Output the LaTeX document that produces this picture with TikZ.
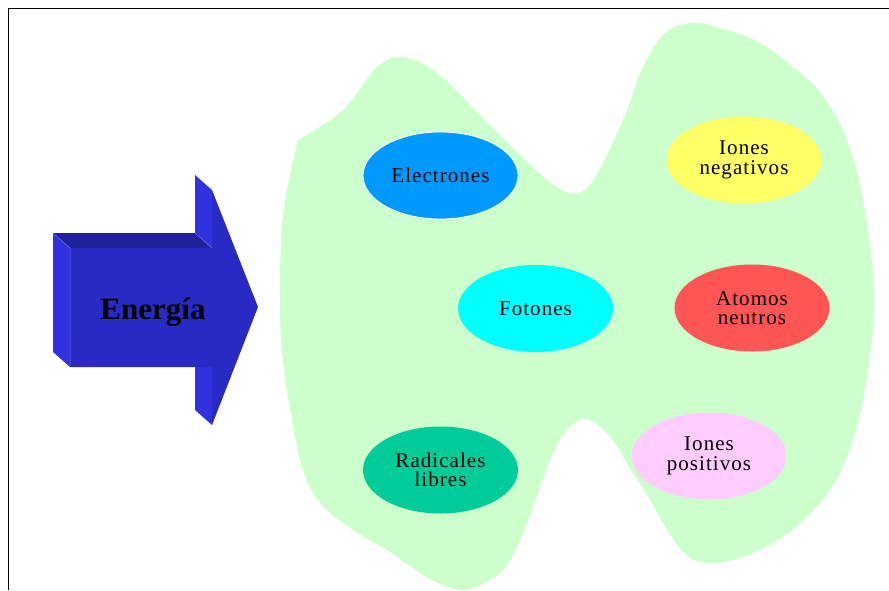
\documentclass[tikz,border=0pt]{standalone}
\usepackage{fontspec}
\setmainfont{Liberation Serif}
\newfontfamily\etiqueta[LetterSpace=5]{Liberation Serif}
\usetikzlibrary{shapes.geometric}
\definecolor{fondo}{HTML}{CCFFCC}
\definecolor{carafrente}{HTML}{2929C3}
\definecolor{caraclara}{HTML}{3131E0}
\definecolor{caraoscura}{HTML}{20209A}
\definecolor{electrones}{HTML}{0099FF}
\definecolor{negativos}{HTML}{FFFF66}
\definecolor{fotones}{HTML}{00FFFF}
\definecolor{neutros}{HTML}{FF5555}
\definecolor{radicales}{HTML}{00CC99}
\definecolor{positivos}{HTML}{FFCCFF}
\tikzset{particula/.style={ellipse, inner sep=0pt, minimum width=155pt, minimum height=87pt, align=center, font=\etiqueta\fontsize{21}{19.5}\selectfont}}

\begin{document}
\begin{tikzpicture}[x=1pt, y=-1pt]
			%%%%% START %%%%%
			\useasboundingbox (0,0) rectangle (889,590);
			
			\draw[line width=1pt] (8,590) -- (8,8) -- (889,8);
			
			\fill[fondo] plot[smooth, tension=0.6] coordinates {(298,140) (343,110) (377,67) (403,57) (437,73) (480,115) (520,155) (550,182) (570,193) (588,187) (608,153) (627,110) (643,67) (665,33) (693,23) (727,30) (760,43) (793,67) (820,92) (845,135) (863,200) (874,300) (863,400) (840,473) (807,517) (773,543) (740,558) (713,563) (690,558) (670,535) (650,500) (633,473) (610,437) (587,419) (567,430) (550,460) (533,507) (517,547) (500,573) (470,589) (447,587) (420,573) (387,550) (353,530) (320,503) (303,470) (292,420) (281,340) (281,240) (287,190) (298,140)} -- cycle;
			
			\fill[caraclara] (53,233) -- (70,248) -- (70,367) -- (53,352) -- cycle;
			\fill[caraoscura] (53,233) -- (195,233) -- (212,248) -- (70,248) -- cycle;
			\fill[caraclara] (195,175) -- (212,190) -- (212,248) -- (195,233) -- cycle;
			\fill[caraclara] (195,367) -- (212,367) -- (212,425) -- (195,410) -- cycle;
			\fill[carafrente] (70,248) -- (212,248) -- (212,190) -- (258,307) -- (212,425) -- (212,367) -- (70,367) -- cycle;
			\draw[caraclara!70!white, line width=0.5pt] (53,233) -- (70,248) -- (70,367);
			\draw[caraclara!70!white, line width=0.5pt] (195,233) -- (212,248);
			
			\node[anchor=base, font=\fontsize{31}{33}\selectfont\bfseries] (energia) at (153,319) {Energía};
			
			\node[particula, fill=electrones, draw=white, line width=0.8pt] (electrones) at (440.5,175.5) {Electrones};
			\node[particula, fill=negativos] (negativos) at (744,160) {Iones\\negativos};
			\node[particula, fill=fotones] (fotones) at (535.5,308.5) {Fotones};
			\node[particula, fill=neutros] (neutros) at (752,308) {Atomos\\neutros};
			\node[particula, fill=radicales] (radicales) at (440.5,470) {Radicales\\libres};
			\node[particula, fill=positivos] (positivos) at (709,456) {Iones\\positivos};
			
			%%%%% END %%%%%
\end{tikzpicture}
\end{document}
